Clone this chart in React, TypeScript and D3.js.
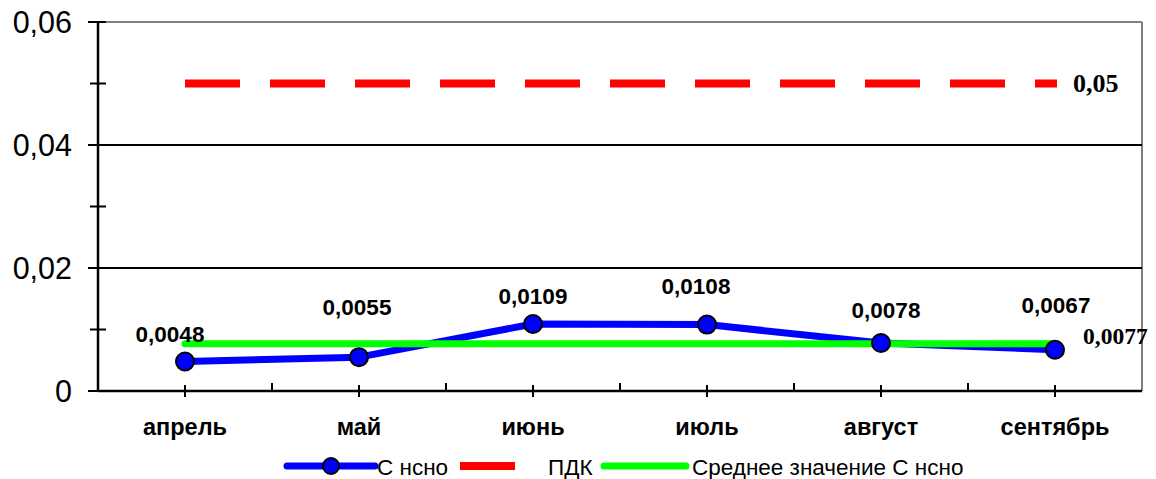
import React from "react";
import * as d3 from "d3";

const categories = ["апрель", "май", "июнь", "июль", "август", "сентябрь"];
const cValues = [0.0048, 0.0055, 0.0109, 0.0108, 0.0078, 0.0067];
const cLabels = ["0,0048", "0,0055", "0,0109", "0,0108", "0,0078", "0,0067"];
const pdkValue = 0.05;
const pdkLabel = "0,05";
const avgValue = 0.0077;
const avgLabel = "0,0077";
const yMajorTicks = [0, 0.02, 0.04, 0.06];
const yMinorTicks = [0.01, 0.03, 0.05];
const yTickLabels = ["0", "0,02", "0,04", "0,06"];
const legendLabels = ["С нсно", "ПДК", "Среднее значение С нсно"];

// label placement (layout, px relative to point)
const labelDx = [-15, -2, 0, -11, 5, 1];
const labelDy = [-27, -50, -27, -38, -33, -44];

const W = 1156;
const H = 479;
const L = 98, R = 1142, T = 22, B = 391;

const SANS = "'Liberation Sans', Arial, sans-serif";
const SERIF = "'Liberation Serif', 'Times New Roman', serif";

export default function App() {
  const y = d3.scaleLinear().domain([0, 0.06]).range([B, T]);
  const x = d3.scaleBand<string>().domain(categories).range([L, R]).padding(0);
  const bw = x.bandwidth();
  const cx = (c: string) => (x(c) as number) + bw / 2;

  const line = d3
    .line<number>()
    .x((_, i) => cx(categories[i]))
    .y((d) => y(d));

  const x0 = cx(categories[0]);
  const x1 = cx(categories[categories.length - 1]);

  return (
    <svg
      width={W}
      height={H}
      style={{ position: "absolute", left: 0, top: 0, background: "#fff" }}
    >
      <rect x={0} y={0} width={W} height={H} fill="#fff" />
      {/* borders */}
      <line x1={L} x2={R} y1={y(0.06)} y2={y(0.06)} stroke="#808080" strokeWidth={2} />
      <line x1={R} x2={R} y1={T} y2={B} stroke="#808080" strokeWidth={2} />
      {/* gridlines */}
      {[0.02, 0.04].map((v) => (
        <line key={v} x1={L} x2={R} y1={y(v)} y2={y(v)} stroke="#000" strokeWidth={2} />
      ))}
      {/* axes */}
      <line x1={L} x2={L} y1={T} y2={B} stroke="#000" strokeWidth={2.5} />
      <line x1={L} x2={R} y1={B} y2={B} stroke="#000" strokeWidth={2.5} />
      {yMajorTicks.map((v, i) => (
        <g key={"ym" + v}>
          <line x1={L - 10} x2={L + 8} y1={y(v)} y2={y(v)} stroke="#000" strokeWidth={2} />
          <text
            x={L - 26}
            y={y(v)}
            textAnchor="end"
            dominantBaseline="central"
            fontFamily={SANS}
            fontSize={30.5}
            fill="#000"
          >
            {yTickLabels[i]}
          </text>
        </g>
      ))}
      {yMinorTicks.map((v) => (
        <line key={"yn" + v} x1={L - 8} x2={L + 8} y1={y(v)} y2={y(v)} stroke="#000" strokeWidth={2} />
      ))}
      {categories.slice(1).map((c) => (
        <line key={"xb" + c} x1={x(c) as number} x2={x(c) as number} y1={B - 8} y2={B} stroke="#000" strokeWidth={2} />
      ))}
      {categories.map((c) => (
        <g key={"xc" + c}>
          <line x1={cx(c)} x2={cx(c)} y1={B - 6} y2={B + 6} stroke="#000" strokeWidth={2} />
          <text
            x={cx(c)}
            y={427}
            textAnchor="middle"
            dominantBaseline="central"
            fontFamily={SANS}
            fontWeight="bold"
            fontSize={23.5}
            fill="#000"
          >
            {c}
          </text>
        </g>
      ))}
      {/* PDK */}
      <line
        x1={x0}
        x2={x1 + 2}
        y1={y(pdkValue)}
        y2={y(pdkValue)}
        stroke="#ff0000"
        strokeWidth={8}
        strokeDasharray="55 30"
      />
      <text
        x={1073}
        y={y(pdkValue)}
        dominantBaseline="central"
        fontFamily={SERIF}
        fontWeight="bold"
        fontSize={26}
        fill="#000"
      >
        {pdkLabel}
      </text>
      {/* blue series line */}
      <path d={line(cValues) as string} fill="none" stroke="#0000ff" strokeWidth={7} strokeLinejoin="round" />
      {/* average line */}
      <line
        x1={x0}
        x2={x1}
        y1={y(avgValue)}
        y2={y(avgValue)}
        stroke="#00ff00"
        strokeWidth={7}
        strokeLinecap="round"
      />
      {/* markers */}
      {cValues.map((v, i) => (
        <circle key={"m" + i} cx={cx(categories[i])} cy={y(v)} r={9} fill="#0000ff" stroke="#000" strokeWidth={2} />
      ))}
      {/* data labels */}
      {cValues.map((v, i) => (
        <text
          key={"l" + i}
          x={cx(categories[i]) + labelDx[i]}
          y={y(v) + labelDy[i]}
          textAnchor="middle"
          dominantBaseline="central"
          fontFamily={SANS}
          fontWeight="bold"
          fontSize={22.5}
          fill="#000"
        >
          {cLabels[i]}
        </text>
      ))}
      <text
        x={1083}
        y={336}
        dominantBaseline="central"
        fontFamily={SERIF}
        fontWeight="bold"
        fontSize={23.5}
        fill="#000"
      >
        {avgLabel}
      </text>
      {/* legend */}
      <g>
        <line x1={287} x2={375} y1={466} y2={466} stroke="#0000ff" strokeWidth={7} strokeLinecap="round" />
        <circle cx={331} cy={466} r={8} fill="#0000ff" stroke="#000" strokeWidth={2} />
        <text x={377} y={467} dominantBaseline="central" fontFamily={SANS} fontSize={22.5} fill="#000">
          {legendLabels[0]}
        </text>
        <line x1={460} x2={515} y1={466} y2={466} stroke="#ff0000" strokeWidth={8} />
        <text x={548} y={467} dominantBaseline="central" fontFamily={SANS} fontSize={22.5} fill="#000">
          {legendLabels[1]}
        </text>
        <line x1={604} x2={686} y1={466} y2={466} stroke="#00ff00" strokeWidth={7} strokeLinecap="round" />
        <text x={692} y={467} dominantBaseline="central" fontFamily={SANS} fontSize={22.5} fill="#000">
          {legendLabels[2]}
        </text>
      </g>
    </svg>
  );
}
